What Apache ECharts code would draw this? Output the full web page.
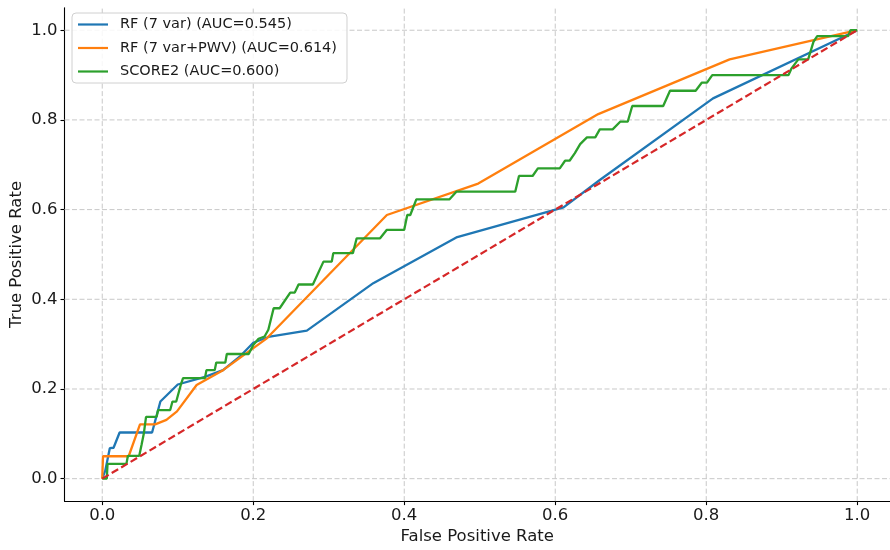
<!DOCTYPE html>
<html>
<head>
<meta charset="utf-8">
<script src="https://cdn.jsdelivr.net/npm/echarts@6/dist/echarts.min.js"></script>
<style>html,body{margin:0;padding:0;background:#fff}#c{width:890px;height:550px}</style>
</head>
<body>
<div id="c"></div>
<script>
// ---- data ----
const tickValues = [0, 0.2, 0.4, 0.6, 0.8, 1.0];
const tickLabels = ['0.0', '0.2', '0.4', '0.6', '0.8', '1.0'];
const seriesNames = ['RF (7 var) (AUC=0.545)', 'RF (7 var+PWV) (AUC=0.614)', 'SCORE2 (AUC=0.600)'];

const rfFpr = [0, 0.004, 0.006, 0.010, 0.015, 0.023, 0.066, 0.077, 0.100, 0.136, 0.160, 0.182, 0.200, 0.222, 0.271, 0.359, 0.469, 0.611, 0.659, 0.809, 1.0];
const rfTpr = [0, 0.018, 0.018, 0.068, 0.069, 0.103, 0.103, 0.172, 0.210, 0.227, 0.242, 0.272, 0.303, 0.317, 0.330, 0.436, 0.538, 0.605, 0.666, 0.848, 1.0];

const pwvFpr = [0, 0.001, 0.035, 0.050, 0.070, 0.085, 0.099, 0.125, 0.160, 0.191, 0.218, 0.377, 0.498, 0.657, 0.831, 1.0];
const pwvTpr = [0, 0.050, 0.050, 0.121, 0.121, 0.131, 0.150, 0.209, 0.242, 0.280, 0.313, 0.588, 0.658, 0.813, 0.935, 1.0];

const scoreFpr = [0, 0.006, 0.007, 0.032, 0.034, 0.049, 0.052, 0.055, 0.058, 0.072, 0.074, 0.090, 0.093, 0.098, 0.104, 0.107, 0.136, 0.138, 0.149, 0.151, 0.163, 0.165, 0.194, 0.200, 0.207, 0.215, 0.220, 0.227, 0.235, 0.249, 0.255, 0.260, 0.279, 0.293, 0.304, 0.306, 0.332, 0.337, 0.368, 0.377, 0.400, 0.404, 0.408, 0.416, 0.460, 0.469, 0.547, 0.552, 0.570, 0.577, 0.606, 0.613, 0.619, 0.626, 0.633, 0.642, 0.653, 0.659, 0.676, 0.686, 0.696, 0.702, 0.743, 0.752, 0.786, 0.794, 0.801, 0.808, 0.909, 0.913, 0.922, 0.935, 0.942, 0.947, 0.988, 0.991, 1.0];
const scoreTpr = [0, 0.000, 0.033, 0.033, 0.051, 0.051, 0.075, 0.100, 0.138, 0.138, 0.153, 0.153, 0.172, 0.172, 0.209, 0.224, 0.224, 0.242, 0.242, 0.259, 0.259, 0.278, 0.278, 0.298, 0.312, 0.317, 0.332, 0.380, 0.380, 0.415, 0.415, 0.433, 0.433, 0.484, 0.484, 0.503, 0.503, 0.536, 0.536, 0.555, 0.555, 0.588, 0.588, 0.623, 0.623, 0.640, 0.640, 0.675, 0.675, 0.692, 0.692, 0.709, 0.709, 0.726, 0.746, 0.761, 0.761, 0.779, 0.779, 0.796, 0.796, 0.831, 0.831, 0.865, 0.865, 0.883, 0.883, 0.900, 0.900, 0.915, 0.935, 0.935, 0.974, 0.987, 0.987, 1.0, 1.0];

const chanceFpr = [0, 1];
const chanceTpr = [0, 1];

const xMin = -0.05, xMax = 1.0434;
const yMin = -0.05, yMax = 1.05;
// ---- chart ----
const zip = (a, b) => a.map((v, i) => [v, b[i]]);
const font = 'DejaVu Sans';
const txt = '#1a1a1a';

const gridSeries = [];
tickValues.forEach(v => {
  gridSeries.push({type: 'line', data: [[v, yMin], [v, yMax]], symbol: 'none', silent: true, z: 1,
    lineStyle: {color: '#c8c8c8', width: 1, type: [5, 2.5]}, animation: false, clip: false});
  gridSeries.push({type: 'line', data: [[xMin, v], [xMax, v]], symbol: 'none', silent: true, z: 1,
    lineStyle: {color: '#c8c8c8', width: 1, type: [5, 2.5]}, animation: false, clip: false});
});

const fmt = v => { const i = tickValues.findIndex(t => Math.abs(t - v) < 1e-9); return i >= 0 ? tickLabels[i] : ''; };
const legendIcon = 'path://M0,0 L30,0 L30,2.2 L0,2.2 Z';

const chart = echarts.init(document.getElementById('c'), null, {renderer: 'canvas'});
chart.setOption({
  animation: false,
  backgroundColor: '#fff',
  grid: {left: 64.5, top: 7.8, right: 0, height: 493.3, containLabel: false, outerBoundsMode: 'none'},
  xAxis: {
    type: 'value', min: xMin, max: xMax,
    name: 'False Positive Rate', nameLocation: 'middle', nameGap: 27, nameMoveOverlap: false,
    nameTextStyle: {fontFamily: font, fontSize: 16.5, color: txt},
    axisLine: {show: true, onZero: false, lineStyle: {color: '#000', width: 1.1}},
    axisTick: {show: true, length: 4, customValues: tickValues, lineStyle: {color: '#000', width: 1.1}},
    axisLabel: {customValues: tickValues, formatter: fmt, fontFamily: font, fontSize: 16.5, color: txt, margin: 6},
    splitLine: {show: false}
  },
  yAxis: {
    type: 'value', min: yMin, max: yMax,
    name: 'True Positive Rate', nameLocation: 'middle', nameGap: 39, nameMoveOverlap: false,
    nameTextStyle: {fontFamily: font, fontSize: 16.5, color: txt},
    axisLine: {show: true, onZero: false, lineStyle: {color: '#000', width: 1.1}},
    axisTick: {show: true, length: 4, customValues: tickValues, lineStyle: {color: '#000', width: 1.1}},
    axisLabel: {customValues: tickValues, formatter: fmt, fontFamily: font, fontSize: 16.5, color: txt, margin: 7},
    splitLine: {show: false}
  },
  legend: {
    data: seriesNames.map(n => ({name: n, icon: legendIcon})),
    orient: 'vertical', left: 72, top: 13,
    padding: [4, 10, 4, 6],
    itemGap: 8.5, itemWidth: 30, itemHeight: 14,
    itemStyle: {borderWidth: 0},
    backgroundColor: 'rgba(255,255,255,0.85)',
    borderColor: '#d0d0d0', borderWidth: 1, borderRadius: 4,
    textStyle: {fontFamily: font, fontSize: 14.5, color: txt, padding: [0, 0, 0, 7]}
  },
  series: gridSeries.concat([
    {name: seriesNames[0], type: 'line', data: zip(rfFpr, rfTpr), symbol: 'none', showSymbol: false, z: 3,
      color: '#1f77b4', lineStyle: {color: '#1f77b4', width: 2.3}, clip: false},
    {name: seriesNames[1], type: 'line', data: zip(pwvFpr, pwvTpr), symbol: 'none', showSymbol: false, z: 3,
      color: '#ff7f0e', lineStyle: {color: '#ff7f0e', width: 2.3}, clip: false},
    {name: seriesNames[2], type: 'line', data: zip(scoreFpr, scoreTpr), symbol: 'none', showSymbol: false, z: 3,
      color: '#2ca02c', lineStyle: {color: '#2ca02c', width: 2.3}, clip: false},
    {name: 'chance', type: 'line', data: zip(chanceFpr, chanceTpr), symbol: 'none', showSymbol: false, z: 4,
      color: '#d62728', lineStyle: {color: '#d62728', width: 2.2, type: [7.5, 3.5]}, clip: false}
  ])
});
</script>
</body>
</html>
